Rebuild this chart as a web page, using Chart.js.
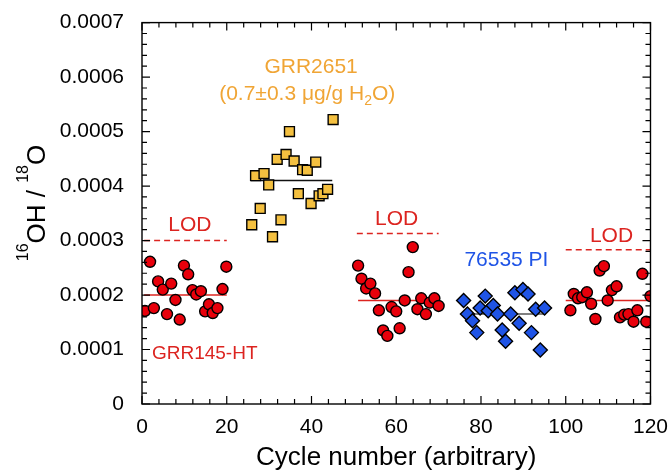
<!DOCTYPE html>
<html>
<head>
<meta charset="utf-8">
<script src="https://cdn.jsdelivr.net/npm/chart.js@4.4.1/dist/chart.umd.min.js"></script>
<style>
  html, body { margin: 0; padding: 0; background: #fff; }
  canvas { display: block; }
</style>
</head>
<body>
<canvas id="chart" width="671" height="473"></canvas>
<script>
// GRR145-HT (red circles)
const grr145X = [0.7, 1.9, 2.8, 3.8, 4.9, 5.9, 6.9, 7.9, 8.9, 9.9, 10.9, 11.9, 12.8, 13.9, 14.9, 15.8, 16.7, 17.8, 19.0, 19.9];
const grr145Y = [0.000171, 0.000261, 0.000176, 0.000225, 0.000210, 0.000165, 0.000221, 0.000191, 0.000155, 0.000254,
                 0.000238, 0.000209, 0.000201, 0.000207, 0.000170, 0.000183, 0.000167, 0.000176, 0.000211, 0.000252];

// GRR2651 (yellow squares)
const grr2651X = [25.9, 26.8, 27.9, 28.8, 29.9, 30.8, 31.9, 32.8, 34.0, 34.8, 35.9, 36.9, 37.9, 39.0, 39.9, 41.0, 41.8, 42.7, 43.8, 45.1];
const grr2651Y = [0.000329, 0.000419, 0.000359, 0.000423, 0.000402, 0.000307, 0.000449, 0.000338, 0.000458, 0.000500,
                  0.000446, 0.000386, 0.000430, 0.000429, 0.000368, 0.000444, 0.000382, 0.000386, 0.000394, 0.000522];

// second GRR145-HT run
const grr145bX = [51.0, 51.8, 52.9, 53.9, 55.0, 55.9, 56.9, 57.9, 58.9, 60.0, 60.8, 62.0, 62.9, 63.9, 65.0, 65.9, 67.0, 67.9, 69.0, 70.0];
const grr145bY = [0.000254, 0.000230, 0.000212, 0.000221, 0.000203, 0.000172, 0.000135, 0.000125, 0.000178, 0.000170,
                  0.000139, 0.000190, 0.000242, 0.000288, 0.000174, 0.000194, 0.000165, 0.000186, 0.000194, 0.000180];

// 76535 PI (blue diamonds)
const pi76535X = [75.9, 76.8, 78.0, 79.0, 79.8, 81.0, 81.7, 82.9, 83.9, 85.0, 85.8, 87.0, 88.0, 89.0, 89.9, 91.1, 91.9, 92.9, 94.0, 95.0];
const pi76535Y = [0.000190, 0.000165, 0.000153, 0.000131, 0.000176, 0.000198, 0.000171, 0.000181, 0.000165, 0.000136,
                  0.000115, 0.000165, 0.000204, 0.000148, 0.000210, 0.000202, 0.000131, 0.000174, 0.000099, 0.000176];

// third GRR145-HT run
const grr145cX = [101.1, 101.9, 102.9, 103.9, 105.0, 106.0, 107.0, 108.0, 109.0, 109.9, 110.9, 112.0, 112.8, 113.8, 114.8, 116.0, 116.9, 118.1, 119.0, 120.0];
const grr145cY = [0.000172, 0.000202, 0.000194, 0.000196, 0.000205, 0.000184, 0.000156, 0.000245, 0.000253, 0.000190,
                  0.000209, 0.000216, 0.000159, 0.000164, 0.000165, 0.000151, 0.000172, 0.000239, 0.000151, 0.000198];

// mean lines [xStart, xEnd, value]
const meanRed1 = [0.5, 20, 0.000200];
const meanYellow = [25.7, 44.9, 0.000410];
const meanRed2 = [51.0, 69.5, 0.000190];
const meanBlue = [77.5, 95.3, 0.000165];
const meanRed3 = [100, 120, 0.000190];

// limits of detection [xStart, xEnd, value]
const lod1 = [0.5, 20, 0.000300];
const lod2 = [50.7, 70, 0.000313];
const lod3 = [100, 120, 0.000283];

const xTicks = [0, 20, 40, 60, 80, 100, 120];
const yTicks = [0, 0.0001, 0.0002, 0.0003, 0.0004, 0.0005, 0.0006, 0.0007];

const FONT = '"Liberation Sans", Arial, sans-serif';
const RED = '#e8000b';
const RED_LINE = '#dc2420';
const ORANGE = '#f0a535';
const BLUE = '#1f54e6';

function pts(xs, ys) {
  return xs.map((x, i) => ({ x: x, y: ys[i] }));
}
function seg(s) {
  return [{ x: s[0], y: s[2] }, { x: s[1], y: s[2] }];
}

function scatterSet(xs, ys, style, fill, radius) {
  return {
    type: 'scatter',
    data: pts(xs, ys),
    pointStyle: style,
    pointRadius: radius,
    pointBackgroundColor: fill,
    pointBorderColor: '#000',
    pointBorderWidth: 1.4,
    showLine: false
  };
}
function lineSet(s, color, dash) {
  return {
    type: 'line',
    data: seg(s),
    borderColor: color,
    borderWidth: 1.5,
    borderDash: dash || [],
    pointRadius: 0,
    fill: false
  };
}

// text annotations, placed in data units
const notes = [
  { x: 11.3, y: 0.000331, color: RED_LINE, size: 21, runs: [{ t: 'LOD' }] },
  { x: 60.1, y: 0.000342, color: RED_LINE, size: 21, runs: [{ t: 'LOD' }] },
  { x: 110.8, y: 0.000311, color: RED_LINE, size: 21, runs: [{ t: 'LOD' }] },
  { x: 14.8, y: 0.000096, color: RED_LINE, size: 19, runs: [{ t: 'GRR145-HT' }] },
  { x: 86.0, y: 0.000267, color: BLUE, size: 21, runs: [{ t: '76535 PI' }] },
  { x: 39.9, y: 0.000622, color: ORANGE, size: 21, runs: [{ t: 'GRR2651' }] },
  { x: 39.0, y: 0.000571, color: ORANGE, size: 21,
    runs: [{ t: '(0.7\u00b10.3 \u03bcg/g H' }, { t: '2', scale: 0.65, dy: 5 }, { t: 'O)' }] }
];

function drawRuns(ctx, runs, cx, baseY, size, color) {
  let total = 0;
  runs.forEach(r => {
    ctx.font = Math.round(size * (r.scale || 1)) + 'px ' + FONT;
    r.w = ctx.measureText(r.t).width;
    total += r.w;
  });
  let x = cx - total / 2;
  ctx.fillStyle = color;
  ctx.textAlign = 'left';
  ctx.textBaseline = 'alphabetic';
  runs.forEach(r => {
    ctx.font = Math.round(size * (r.scale || 1)) + 'px ' + FONT;
    ctx.fillText(r.t, x, baseY + (r.dy || 0));
    x += r.w;
  });
}

const decor = {
  id: 'decor',
  afterDraw(chart) {
    const ctx = chart.ctx;
    const a = chart.chartArea;
    const xs = chart.scales.x, ys = chart.scales.y;
    ctx.save();

    // frame
    ctx.strokeStyle = '#000';
    ctx.lineWidth = 1.4;
    ctx.strokeRect(a.left, a.top, a.right - a.left, a.bottom - a.top);

    // inward ticks on all four sides
    ctx.lineWidth = 1.2;
    ctx.beginPath();
    for (let v = xs.min; v <= xs.max + 1e-9; v += 4) {
      const px = xs.getPixelForValue(v);
      const len = (Math.round(v) % 20 === 0) ? 8 : 5;
      ctx.moveTo(px, a.bottom); ctx.lineTo(px, a.bottom - len);
      ctx.moveTo(px, a.top); ctx.lineTo(px, a.top + len);
    }
    for (let k = 0; k <= 35; k++) {
      const py = ys.getPixelForValue(k * 0.00002);
      const len = (k % 5 === 0) ? 8 : 5;
      ctx.moveTo(a.left, py); ctx.lineTo(a.left + len, py);
      ctx.moveTo(a.right, py); ctx.lineTo(a.right - len, py);
    }
    ctx.stroke();

    // annotations
    notes.forEach(n => {
      const px = xs.getPixelForValue(n.x);
      const py = ys.getPixelForValue(n.y);
      drawRuns(ctx, n.runs, px, py + n.size * 0.36, n.size, n.color);
    });

    // y axis title with superscripts
    ctx.translate(35, 203);
    ctx.rotate(-Math.PI / 2);
    drawRuns(ctx, [
      { t: '16', scale: 0.62, dy: -17 },
      { t: 'OH / ' },
      { t: '18', scale: 0.62, dy: -17 },
      { t: 'O' }
    ], 0, 10, 26, '#000');

    ctx.restore();
  }
};

new Chart(document.getElementById('chart'), {
  data: {
    datasets: [
      scatterSet(grr145X, grr145Y, 'circle', RED, 5.5),
      scatterSet(grr2651X, grr2651Y, 'rect', '#f4c040', 7),
      scatterSet(grr145bX, grr145bY, 'circle', RED, 5.5),
      scatterSet(pi76535X, pi76535Y, 'rectRot', BLUE, 7),
      scatterSet(grr145cX, grr145cY, 'circle', RED, 5.5),
      lineSet(meanRed1, RED_LINE),
      lineSet(meanYellow, '#111'),
      lineSet(meanRed2, RED_LINE),
      lineSet(meanBlue, '#555'),
      lineSet(meanRed3, RED_LINE),
      lineSet(lod1, RED_LINE, [6, 4]),
      lineSet(lod2, RED_LINE, [6, 4]),
      lineSet(lod3, RED_LINE, [6, 4])
    ]
  },
  options: {
    responsive: false,
    animation: false,
    devicePixelRatio: 1,
    layout: { padding: { left: 0, right: 18, top: 19, bottom: 0 } },
    plugins: { legend: { display: false }, tooltip: { enabled: false } },
    scales: {
      x: {
        type: 'linear',
        min: 0,
        max: 120,
        afterFit: s => { s.height = 69; },
        afterBuildTicks: s => { s.ticks = xTicks.map(v => ({ value: v })); },
        grid: { display: false },
        border: { display: false },
        ticks: { color: '#000', font: { family: FONT, size: 21 }, padding: 3, maxRotation: 0 },
        title: {
          display: true,
          text: 'Cycle number (arbitrary)',
          color: '#000',
          font: { family: FONT, size: 26 },
          padding: { top: 0, bottom: 0 }
        }
      },
      y: {
        type: 'linear',
        min: 0,
        max: 0.0007,
        afterFit: s => { s.width = 142; },
        afterBuildTicks: s => { s.ticks = yTicks.map(v => ({ value: v })); },
        grid: { display: false },
        border: { display: false },
        ticks: {
          color: '#000',
          font: { family: FONT, size: 21 },
          padding: 10,
          callback: v => (v === 0 ? '0' : v.toFixed(4))
        }
      }
    }
  },
  plugins: [decor]
});
</script>
</body>
</html>
